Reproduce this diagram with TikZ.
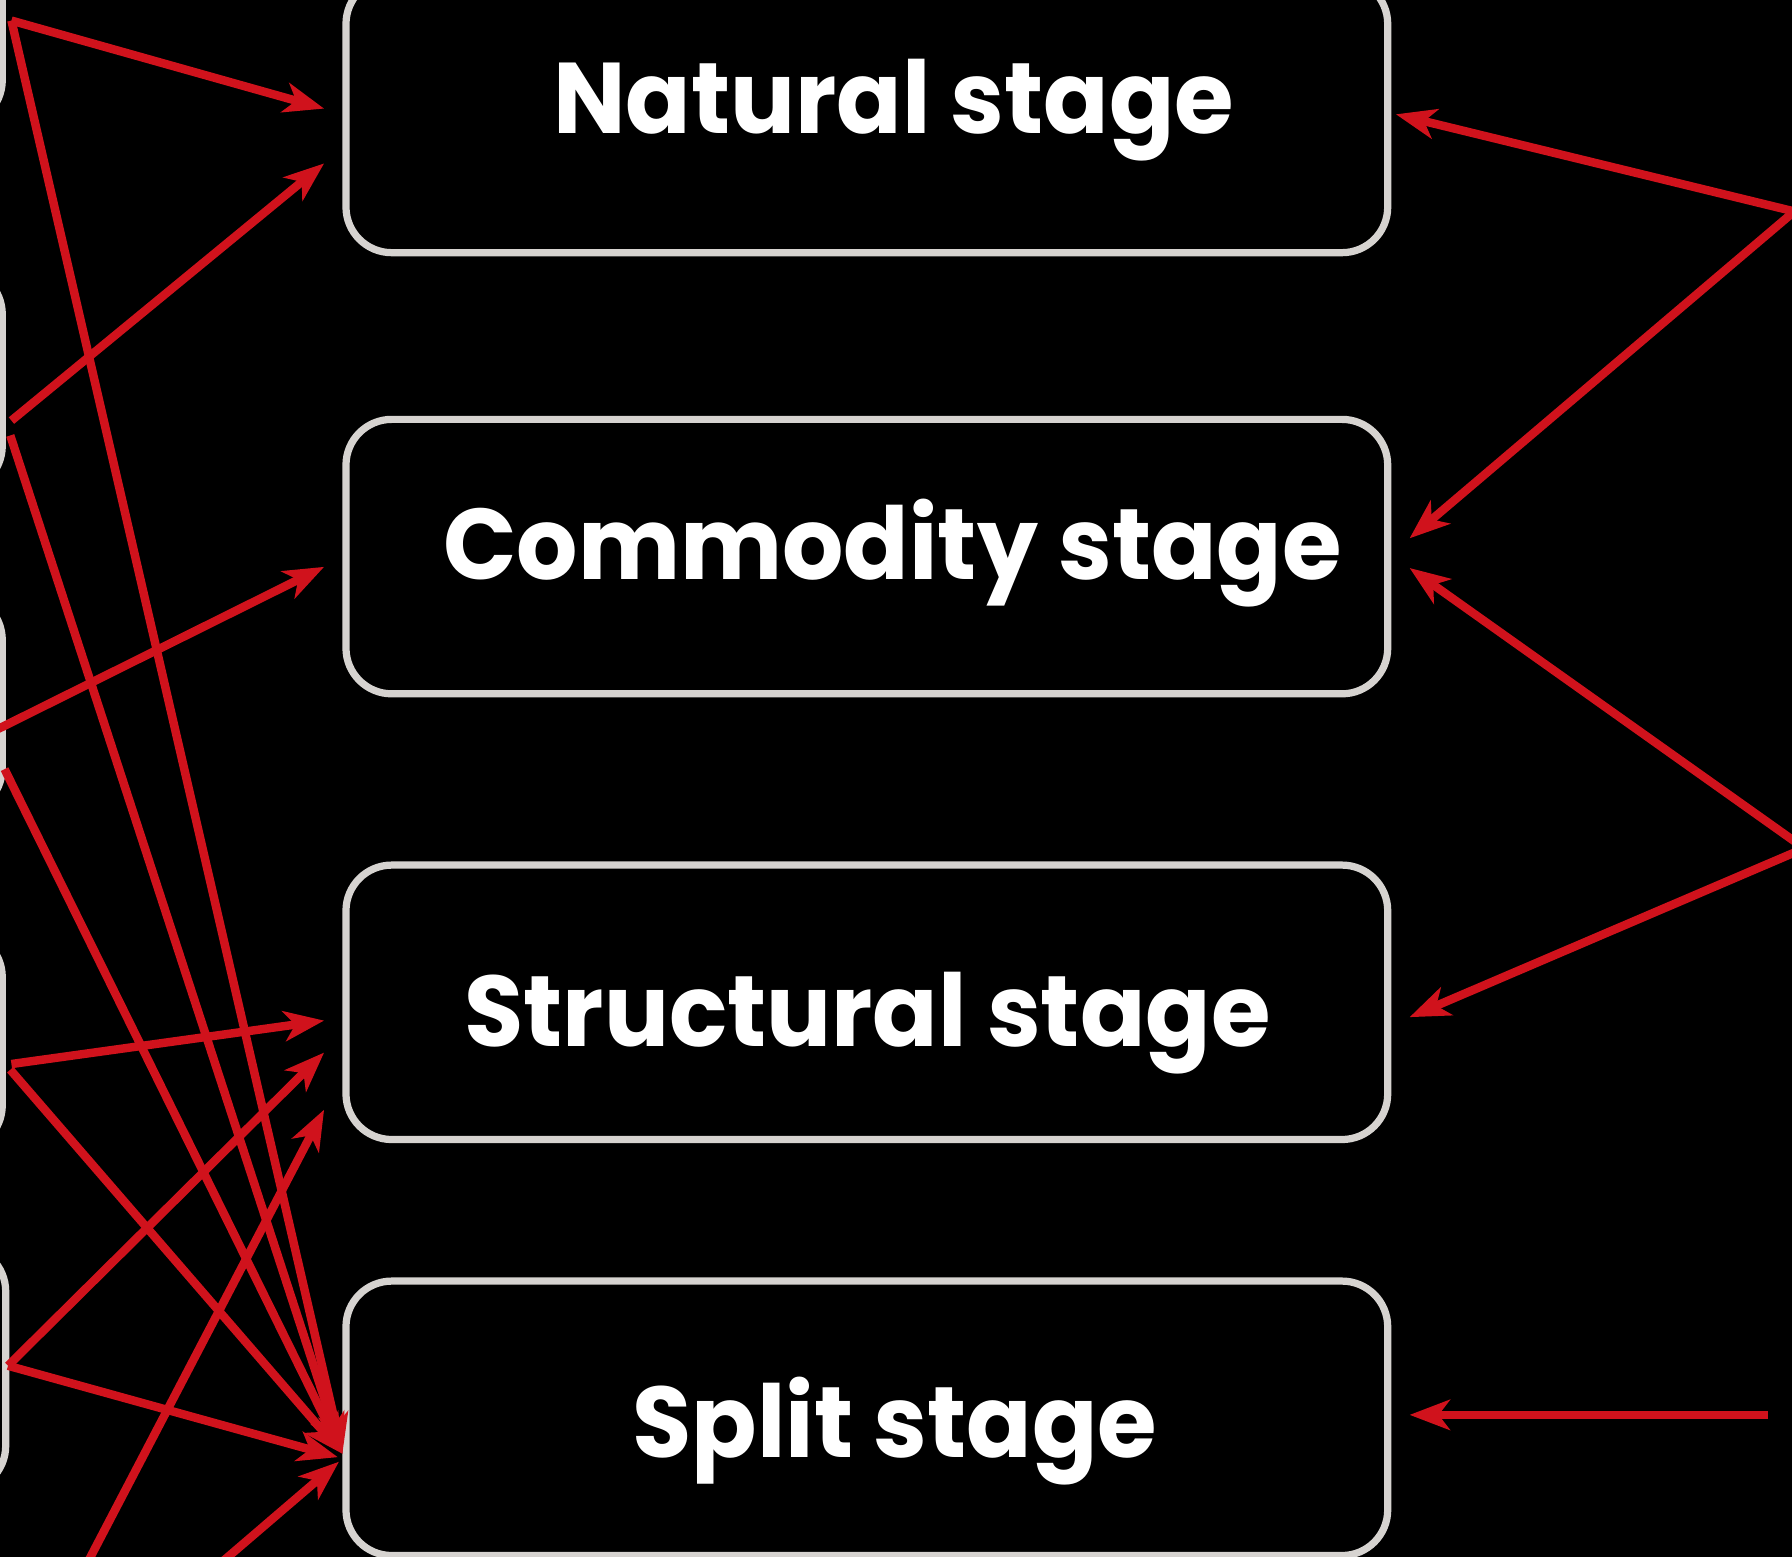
\documentclass[tikz,border=0pt]{standalone}
\usepackage{fontspec}
\newfontfamily\stagefont{Poppins}[FakeStretch=0.96]
\usetikzlibrary{arrows.meta,calc}

\definecolor{flowred}{RGB}{208,18,28}
\definecolor{edgegray}{RGB}{214,211,208}

\tikzset{
  stagebox/.style={draw=edgegray,line width=1.8pt,rounded corners=0.4cm,
    minimum width=9.11cm,minimum height=2.4cm,inner sep=0pt},
  stageline/.style={draw=edgegray,line width=1.8pt,rounded corners=0.4cm},
  stagetext/.style={anchor=base,text=white,inner sep=0pt,
    font=\stagefont\bfseries\fontsize{25}{28}\selectfont},
  flow/.style={flowred,line width=2.1pt,-{Stealth[length=10pt,width=7.5pt,inset=2.8pt]}}
}

\begin{document}
\begin{tikzpicture}[x=0.01cm,y=-0.01cm]
  \fill[black] (0,0) rectangle (1568,1362);
  \useasboundingbox (0,0) rectangle (1568,1362);
  \clip (0,0) rectangle (1568,1362);

  % boxes of the previous column, cut by the left edge
  \draw[stageline] (-400,-100) rectangle (2,110);
  \draw[stageline] (-400,235) rectangle (2,430);
  \draw[stageline] (-400,520) rectangle (2,712);
  \draw[stageline] (-400,815) rectangle (2,1007);
  \draw[stageline] (-400,1090) rectangle (5,1305);

  % the four stages
  \node[stagebox] (natural) at (758.5,101) {};
  \node[stagebox] (commodity) at (758.5,487) {};
  \node[stagebox] (structural) at (758.5,877) {};
  \node[stagebox] (split) at (758.5,1241) {};

  \node[stagetext] (naturaltxt) at (782,117) {Natural stage};
  \node[stagetext] (commoditytxt) at (781,507) {Commodity stage};
  \node[stagetext] (structuraltxt) at (759,916) {Structural stage};
  \node[stagetext] (splittxt) at (783,1275) {Split stage};

  % where the links come from
  \coordinate (l1) at (10,18);
  \coordinate (l2a) at (10,368);
  \coordinate (l2b) at (9,381);
  \coordinate (l3a) at (-2,638);
  \coordinate (l3b) at (4,673);
  \coordinate (l4a) at (10,931);
  \coordinate (l4b) at (9,936);
  \coordinate (l5) at (7,1195);
  \coordinate (b1) at (59,1401);
  \coordinate (b2) at (180,1379);
  \coordinate (r1) at (1570,185);
  \coordinate (r2) at (1570,736);
  \coordinate (r3) at (1570,746);
  \coordinate (r4) at (1547,1238);

  % left side
  \draw[flow] (l1) -- ($(natural.west)+(-16,-6)$);
  \draw[flow] (l2a) -- ($(natural.west)+(-16,42)$);
  \draw[flow] (l3a) -- ($(commodity.west)+(-16,9)$);
  \draw[flow] (l4a) -- ($(structural.west)+(-16,16)$);
  \draw[flow] (l5) -- ($(structural.west)+(-16,44)$);
  \draw[flow] (b1) -- ($(structural.west)+(-16,94)$);
  \draw[flow] (l1) -- ($(split.west)+(0,31)$);
  \draw[flow] (l2b) -- ($(split.west)+(0,31)$);
  \draw[flow] (l3b) -- ($(split.west)+(0,31)$);
  \draw[flow] (l4b) -- ($(split.west)+(0,31)$);
  \draw[flow] (l5) -- ($(split.west)+(-4,34)$);
  \draw[flow] (b2) -- ($(split.west)+(-3,38)$);

  % right side
  \draw[flow] (r1) -- ($(natural.east)+(4,-1)$);
  \draw[flow] (r1) -- ($(commodity.east)+(16,-16)$);
  \draw[flow] (r2) -- ($(commodity.east)+(16,10)$);
  \draw[flow] (r3) -- ($(structural.east)+(16,13)$);
  \draw[flow] (r4) -- ($(split.east)+(16,-3)$);
\end{tikzpicture}
\end{document}
